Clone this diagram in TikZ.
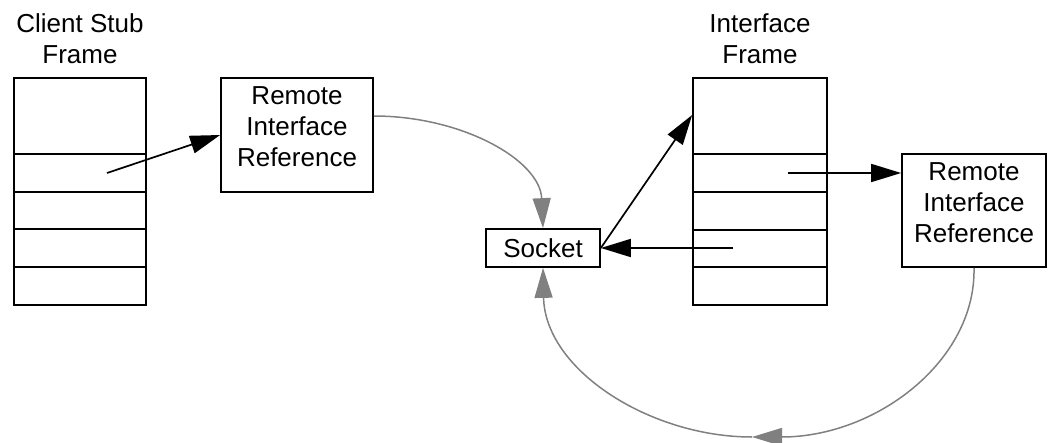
\documentclass[tikz,border=0pt]{standalone}
\usepackage{fontspec}
\setmainfont{Liberation Sans}
\usetikzlibrary{arrows.meta}
\begin{document}
\begin{tikzpicture}[x=1pt,y=-1pt,
  txt/.style={font=\fontsize{26}{31}\selectfont},
  box/.style={draw, line width=1.7pt, inner sep=0pt, align=center, txt},
  lbl/.style={inner sep=0pt, align=center, txt},
  rowline/.style={line width=1.7pt},
  blk/.style={line width=1.7pt, -{Triangle[length=30pt,width=18pt]}},
  gry/.style={draw={rgb,255:red,128;green,128;blue,128}, line width=1.5pt,
              -{Triangle[length=30pt,width=18pt,fill={rgb,255:red,128;green,128;blue,128}]}}]
\useasboundingbox (0,0) rectangle (1050,442);

% Client stub frame
\node[lbl] (stubtitle) at (80,38.5) {Client Stub\\Frame};
\node[box, minimum width=132pt, minimum height=227pt] (stub) at (80,191.5) {};
\foreach \yy in {154,192,229,267}
  \draw[rowline] (stub.west |- 0,\yy) -- (stub.east |- 0,\yy);

% Left remote interface reference
\node[box, minimum width=152pt, minimum height=114pt, text depth=16pt] (rir1) at (297,135) {Remote\\Interface\\Reference};

% Interface frame
\node[lbl] (ifacetitle) at (760,38.5) {Interface\\Frame};
\node[box, minimum width=134pt, minimum height=227pt] (iface) at (760,191.5) {};
\foreach \yy in {154,192,230,267}
  \draw[rowline] (iface.west |- 0,\yy) -- (iface.east |- 0,\yy);

% Right remote interface reference
\node[box, minimum width=144pt, minimum height=113pt, text depth=16pt] (rir2) at (974,210.5) {Remote\\Interface\\Reference};

% Socket
\node[box, minimum width=114pt, minimum height=38pt] (sock) at (543,248) {Socket};

% anchor points
\coordinate (s1) at (107,173);
\coordinate (c1) at (rir1.east |- 0,116);
\coordinate (i1) at (iface.west |- 0,115);
\coordinate (i4) at (733,248);
\coordinate (i2) at (788,173);
\coordinate (r2) at (rir2.west |- 0,173);
\coordinate (bot) at (752,437);

% black arrows
\draw[blk] (s1) -- (rir1.west);
\draw[blk] (sock.east) -- (i1);
\draw[blk] (i4) -- (sock.east);
\draw[blk] (i2) -- (r2);

% gray curves
\draw[gry] (c1) .. controls (462,116) and (540,160) .. (sock.north);
\draw[gry] (rir2.south) .. controls (976,361) and (876,437) .. (bot);
\draw[gry] (bot) .. controls (650,437) and (545,370) .. (sock.south);
\end{tikzpicture}
\end{document}
